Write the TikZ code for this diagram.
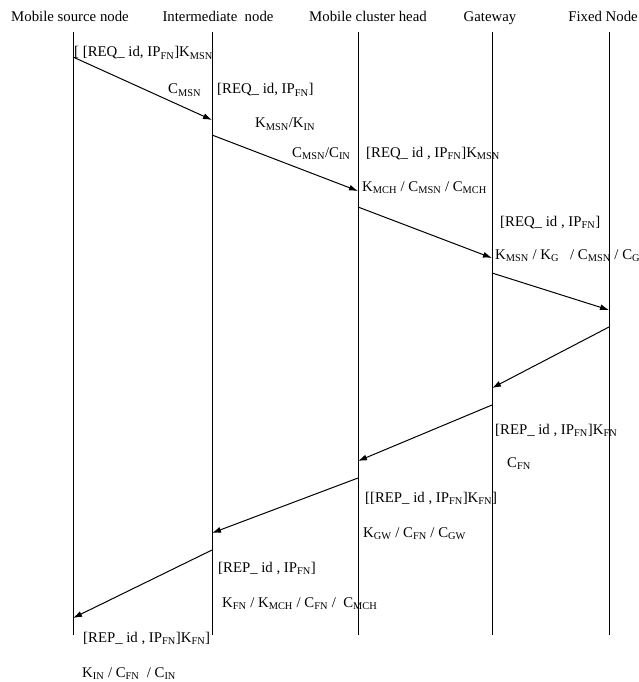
\documentclass[tikz,border=0pt]{standalone}
\usepackage{fontspec}
\setmainfont{Liberation Serif}
\usetikzlibrary{arrows.meta}
\newcommand{\sbs}[1]{\textsubscript{#1}}
\begin{document}
\begin{tikzpicture}[x=1pt,y=-1pt,font=\fontsize{14.8}{16}\selectfont]
\tikzset{Head/.style={inner sep=0, anchor=base}}
\tikzset{Msg/.style={inner sep=0, anchor=base west}}
\tikzset{Life/.style={line width=1pt}}
\tikzset{Send/.style={-{Latex[length=9pt,width=6pt]}, line width=1pt}}
\useasboundingbox (0,0) rectangle (639,682);
\node[Head] (src) at (70,22) {Mobile source node};
\node[Head] (int) at (218,22) {Intermediate~ node};
\node[Head] (mch) at (368,22) {Mobile cluster head};
\node[Head] (gw) at (490,22) {Gateway};
\node[Head] (fn) at (603,22) {Fixed Node};
\foreach \n/\x in {src/73,int/212,mch/358,gw/492,fn/609}
{
\coordinate (\n T) at (\x,32);
\coordinate (\n B) at (\x,635);
\draw[Life] (\n T) -- (\n B);
}
\coordinate (m1a) at (73,57);  \coordinate (m1b) at (212,120);
\coordinate (m2a) at (212,135); \coordinate (m2b) at (358,191);
\coordinate (m3a) at (358,207); \coordinate (m3b) at (492,258);
\coordinate (m4a) at (492,273); \coordinate (m4b) at (609,310);
\coordinate (m5a) at (609,327); \coordinate (m5b) at (492,388);
\coordinate (m6a) at (492,405); \coordinate (m6b) at (358,461);
\coordinate (m7a) at (358,478); \coordinate (m7b) at (212,533);
\coordinate (m8a) at (212,550); \coordinate (m8b) at (73,618);
\foreach \i in {1,...,8}
\draw[Send] (m\i a) -- (m\i b);
\node[Msg] (l1) at (74,57) {[ [REQ\_ id, IP\sbs{FN}]K\sbs{MSN}};
\node[Msg] (l2) at (168,94) {C\sbs{MSN}};
\node[Msg] (l3) at (217,94) {[REQ\_ id, IP\sbs{FN}]};
\node[Msg] (l4) at (255,128) {K\sbs{MSN}/K\sbs{IN}};
\node[Msg] (l5) at (292,157) {C\sbs{MSN}/C\sbs{IN}};
\node[Msg] (l6) at (366,157) {[REQ\_ id , IP\sbs{FN}]K\sbs{MSN}};
\node[Msg] (l7) at (362,191) {K\sbs{MCH} / C\sbs{MSN} / C\sbs{MCH}};
\node[Msg] (l8) at (500,226) {[REQ\_ id , IP\sbs{FN}]};
\node[Msg] (l9) at (495,259) {K\sbs{MSN} / K\sbs{G}~~ / C\sbs{MSN} / C\sbs{G}};
\node[Msg] (l10) at (495,434) {[REP\_ id , IP\sbs{FN}]K\sbs{FN}};
\node[Msg] (l11) at (507,467) {C\sbs{FN}};
\node[Msg] (l12) at (365,502) {[[REP\_ id , IP\sbs{FN}]K\sbs{FN}]};
\node[Msg] (l13) at (363,537) {K\sbs{GW} / C\sbs{FN} / C\sbs{GW}};
\node[Msg] (l14) at (218,572) {[REP\_ id , IP\sbs{FN}]};
\node[Msg] (l15) at (222,607) {K\sbs{FN} / K\sbs{MCH} / C\sbs{FN} /~ C\sbs{MCH}};
\node[Msg] (l16) at (83,642) {[REP\_ id , IP\sbs{FN}]K\sbs{FN}]};
\node[Msg] (l17) at (82,677) {K\sbs{IN} / C\sbs{FN}~ / C\sbs{IN}};
\end{tikzpicture}
\end{document}
